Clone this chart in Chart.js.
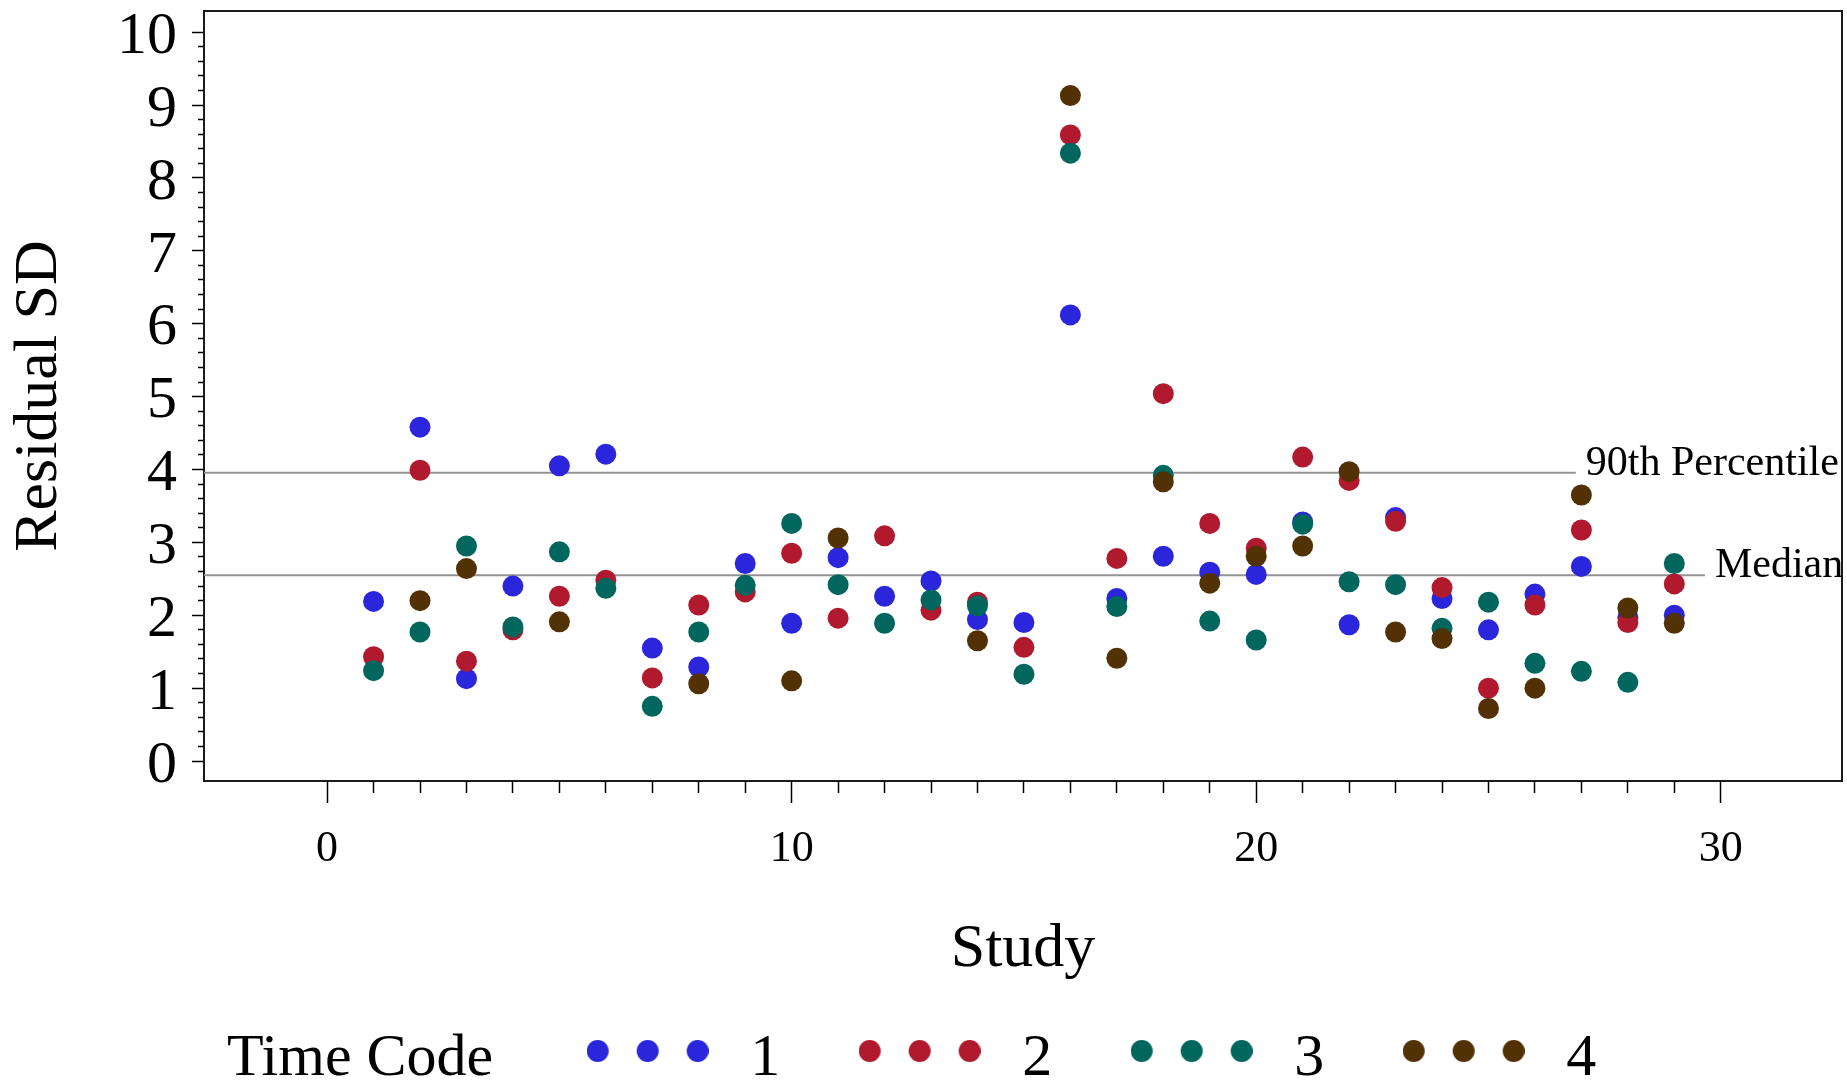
<!DOCTYPE html>
<html>
<head>
<meta charset="utf-8">
<script src="https://cdn.jsdelivr.net/npm/chart.js@4.4.1/dist/chart.umd.min.js"></script>
<style>
  html, body { margin: 0; padding: 0; background: #fff; }
  #wrap { width: 1847px; height: 1085px; }
</style>
</head>
<body>
<div id="wrap"><canvas id="grafica"></canvas></div>
<script>
// ---- data ----
const studies = [1, 2, 3, 4, 5, 6, 7, 8, 9, 10, 11, 12, 13, 14, 15, 16, 17, 18, 19, 20, 21, 22, 23, 24, 25, 26, 27, 28, 29];
const tc1 = [2.19, 4.58, 1.13, 2.40, 4.05, 4.21, 1.55, 1.29, 2.71, 1.89, 2.79, 2.26, 2.47, 1.94, 1.90, 6.12, 2.23, 2.81, 2.59, 2.56, 3.28, 1.87, 3.34, 2.23, 1.80, 2.29, 2.67, 1.97, 2.00];
const tc2 = [1.43, 3.99, 1.37, 1.80, 2.26, 2.48, 1.14, 2.14, 2.32, 2.85, 1.96, 3.09, 2.07, 2.18, 1.56, 8.59, 2.78, 5.04, 3.26, 2.92, 4.17, 3.85, 3.29, 2.38, 1.00, 2.14, 3.17, 1.90, 2.43];
const tc3 = [1.24, 1.77, 2.95, 1.84, 2.87, 2.37, 0.75, 1.77, 2.41, 3.26, 2.42, 1.89, 2.21, 2.13, 1.19, 8.34, 2.12, 3.92, 1.92, 1.66, 3.25, 2.46, 2.42, 1.82, 2.18, 1.34, 1.23, 1.08, 2.71];
const tc4 = [null, 2.20, 2.64, null, 1.91, null, null, 1.06, null, 1.10, 3.06, null, null, 1.65, null, 9.13, 1.41, 3.83, 2.44, 2.81, 2.95, 3.97, 1.77, 1.68, 0.72, 1.00, 3.65, 2.10, 1.89];

const seriesNames = ['1', '2', '3', '4'];
const seriesColors = ['#2b26db', '#b0192e', '#00665e', '#523105'];

// reference lines: label, value, where the line stops on the x axis
const refLabels = ['90th Percentile', 'Median'];
const refValues = [3.955, 2.55];
const refEnds = [26.88, 29.66];

const xTickLabels = [0, 10, 20, 30];
const yTickLabels = [0, 1, 2, 3, 4, 5, 6, 7, 8, 9, 10];

const xMin = -2.65, xMax = 32.61;
const yMin = -0.274, yMax = 10.29;

const fuente = '"Liberation Serif", "DejaVu Serif", serif';
Chart.defaults.font.family = fuente;
Chart.defaults.color = '#000';

// minor ticks: every study on x, every 0.2 on y
const xTicks = [];
for (let v = xTickLabels[0]; v <= xTickLabels[xTickLabels.length - 1]; v++) xTicks.push(v);
const yTicks = [];
for (let i = 0; i <= yTickLabels[yTickLabels.length - 1] * 5; i++) yTicks.push(i / 5);

function puntos(arr) {
    return studies.map((s, i) => ({ x: s, y: arr[i] })).filter(p => p.y !== null);
}

// three dots used as the legend symbol
function imagenPuntos(color) {
    const c = document.createElement('canvas');
    c.width = 122;
    c.height = 40;
    const g = c.getContext('2d');
    g.fillStyle = color;
    [11, 61, 111].forEach(cx => {
        g.beginPath();
        g.arc(cx, 12, 11, 0, Math.PI * 2);
        g.fill();
    });
    return c;
}
const vacio = document.createElement('canvas');
vacio.width = 1;
vacio.height = 1;

const series = [tc1, tc2, tc3, tc4];
const datasets = series.map((arr, i) => ({
    label: seriesNames[i],
    data: puntos(arr),
    backgroundColor: seriesColors[i],
    borderWidth: 0,
    pointRadius: 10.5,
    pointHoverRadius: 10.5,
    order: 4 - i   // later time codes drawn on top
}));
refValues.forEach((v, i) => {
    datasets.push({
        label: refLabels[i],
        data: [{ x: xMin, y: v }, { x: refEnds[i], y: v }],
        showLine: true,
        borderColor: '#939393',
        borderWidth: 2,
        pointRadius: 0,
        order: 10 + i
    });
});

// text at the end of each reference line
const etiquetasRef = {
    id: 'etiquetasRef',
    afterDatasetsDraw(chart) {
        const { ctx, scales: { x, y } } = chart;
        ctx.save();
        ctx.font = '42px ' + fuente;
        ctx.fillStyle = '#000';
        ctx.textBaseline = 'alphabetic';
        refLabels.forEach((t, i) => {
            ctx.fillText(t, x.getPixelForValue(refEnds[i]) + 10, y.getPixelForValue(refValues[i]) + 2);
        });
        ctx.restore();
    }
};

const marco = { display: true, color: '#1a1a1a', width: 2 };

// no extra room for labels hanging over the plot edges
function sinRelleno(axis) {
    axis.paddingTop = 0;
    axis.paddingBottom = 0;
    axis.paddingLeft = 0;
    axis.paddingRight = 0;
}

new Chart(document.getElementById('grafica'), {
    type: 'scatter',
    data: { datasets: datasets },
    options: {
        responsive: true,
        maintainAspectRatio: false,
        animation: false,
        events: [],
        layout: { autoPadding: false, padding: { top: 11, right: 5, left: 0, bottom: -14 } },
        plugins: {
            tooltip: { enabled: false },
            legend: {
                display: true,
                position: 'bottom',
                align: 'start',
                labels: {
                    usePointStyle: true,
                    pointStyleWidth: 145,
                    padding: 52,
                    color: '#000',
                    font: { size: 60 },
                    generateLabels: () => [
                        { text: 'Time Code  ', pointStyle: vacio, fillStyle: 'rgba(0,0,0,0)', strokeStyle: 'rgba(0,0,0,0)', lineWidth: 0, hidden: false }
                    ].concat(seriesNames.map((n, i) => ({
                        text: n + ' ',
                        pointStyle: imagenPuntos(seriesColors[i]),
                        fillStyle: seriesColors[i],
                        strokeStyle: seriesColors[i],
                        lineWidth: 0,
                        hidden: false,
                        datasetIndex: i
                    })))
                }
            }
        },
        scales: {
            x: {
                type: 'linear',
                position: 'bottom',
                min: xMin,
                max: xMax,
                afterBuildTicks: axis => { axis.ticks = xTicks.map(v => ({ value: v })); },
                afterFit: axis => { axis.height = 196; sinRelleno(axis); },
                border: marco,
                grid: {
                    drawOnChartArea: false,
                    drawTicks: true,
                    tickLength: 22,
                    tickWidth: 1.5,
                    tickColor: '#000',
                    tickBorderDash: c => (c.tick && xTickLabels.includes(c.tick.value)) ? [] : [11, 40]
                },
                ticks: {
                    autoSkip: false,
                    maxRotation: 0,
                    minRotation: 0,
                    padding: 20,
                    font: { size: 44 },
                    callback: v => xTickLabels.includes(v) ? String(v) : ''
                },
                title: {
                    display: true,
                    text: 'Study',
                    font: { size: 62, lineHeight: 0.8 },
                    padding: { top: 0, bottom: 2 }
                }
            },
            y: {
                type: 'linear',
                position: 'left',
                min: yMin,
                max: yMax,
                afterBuildTicks: axis => { axis.ticks = yTicks.map(v => ({ value: v })); },
                afterFit: axis => { axis.width = 204; sinRelleno(axis); },
                border: marco,
                grid: {
                    drawOnChartArea: false,
                    drawTicks: true,
                    tickLength: 12,
                    tickWidth: 1.5,
                    tickColor: '#000',
                    tickBorderDash: c => (c.tick && Number.isInteger(c.tick.value)) ? [] : [0, 6, 6, 40]
                },
                ticks: {
                    autoSkip: false,
                    padding: 15,
                    labelOffset: 5,
                    font: { size: 60 },
                    callback: v => yTickLabels.includes(v) ? String(v) : ''
                },
                title: {
                    display: true,
                    text: 'Residual SD',
                    font: { size: 62, lineHeight: 1 },
                    padding: { top: 9, bottom: 0 }
                }
            },
            // top and right edges of the frame
            x2: {
                type: 'linear',
                position: 'top',
                afterFit: axis => { axis.height = 0; sinRelleno(axis); },
                border: marco,
                grid: { drawOnChartArea: false, drawTicks: false },
                ticks: { display: false }
            },
            y2: {
                type: 'linear',
                position: 'right',
                afterFit: axis => { axis.width = 0; sinRelleno(axis); },
                border: marco,
                grid: { drawOnChartArea: false, drawTicks: false },
                ticks: { display: false }
            }
        }
    },
    plugins: [etiquetasRef]
});
</script>
</body>
</html>
